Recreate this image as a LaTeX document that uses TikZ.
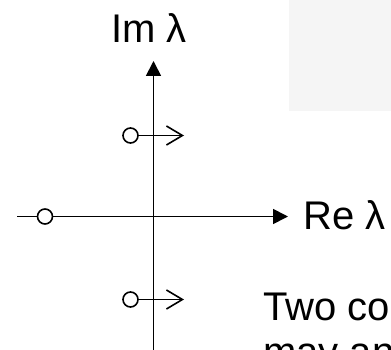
\documentclass[tikz,border=0pt]{standalone}
\usepackage{fontspec}
\setmainfont{Liberation Sans}
\usetikzlibrary{arrows.meta}
\begin{document}
\begin{tikzpicture}[x=1pt,y=-1pt,
  axis/.style={line width=1.8pt,-{Triangle[length=15pt,width=15pt]}},
  movearrow/.style={line width=1.6pt,-{Straight Barb[length=16pt,width=19pt,line width=1.6pt]}},
  eig/.style={circle,draw,line width=1.6pt,minimum size=15pt,inner sep=0pt,fill=white},
  lbl/.style={inner sep=0pt,font=\fontsize{40}{46}\selectfont}]
\useasboundingbox (0,0) rectangle (391,350);
\clip (0,0) rectangle (391,350);
% faint grey panel
\fill[fill={rgb,255:red,245;green,245;blue,245}] (289,0) rectangle (391,111);
% axes
\coordinate (hstart) at (17,216.5);
\coordinate (htip) at (288,216.5);
\coordinate (vstart) at (153.5,352);
\coordinate (vtip) at (153.5,61);
\draw[axis] (hstart) -- (htip);
\draw[axis] (vstart) -- (vtip);
% eigenvalues
\node[eig] (e0) at (45,216.5) {};
\node[eig] (e1) at (130.5,135.5) {};
\node[eig] (e2) at (130.5,299.5) {};
\coordinate (t1) at (184,135.5);
\coordinate (t2) at (184,299.5);
\draw[movearrow] (e1) -- (t1);
\draw[movearrow] (e2) -- (t2);
% labels
\node[lbl,anchor=base] (im) at (149,42.5) {Im λ};
\node[lbl,anchor=base west] (re) at (303,229) {Re λ};
\node[lbl,anchor=base west] (txt1) at (263,320) {Two co};
\node[lbl,anchor=base west] (txt2) at (263,365) {may an};
\end{tikzpicture}
\end{document}
